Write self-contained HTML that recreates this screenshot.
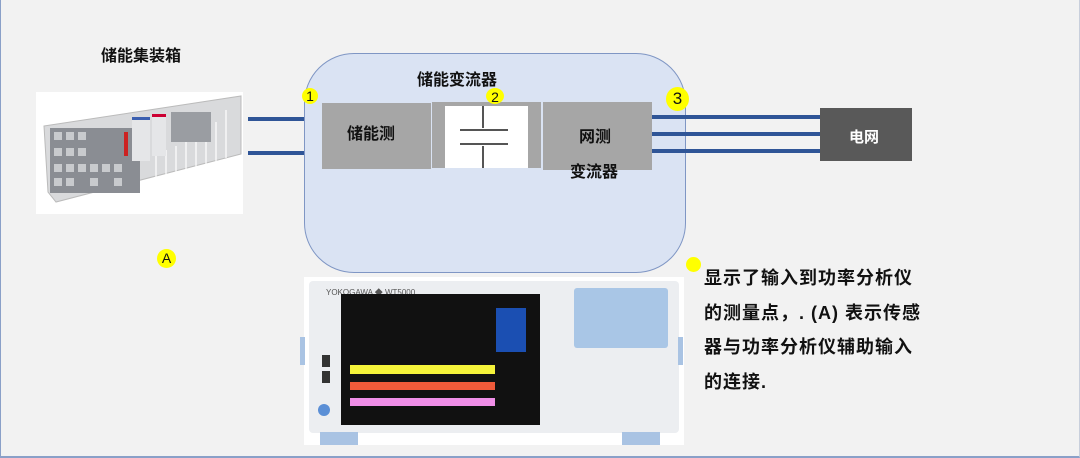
<!DOCTYPE html>
<html><head><meta charset="utf-8"><style>
body{margin:0;width:1080px;height:458px;overflow:hidden;background:#f2f2f2;font-family:"Liberation Sans","Noto Sans CJK SC",sans-serif;}
.a{position:absolute}
.t{font-weight:bold;color:#111;white-space:nowrap}
.y{position:absolute;background:#ffff00;border-radius:50%;text-align:center;color:#111;font-size:14px}
.ln{position:absolute;height:4px;background:#2f5597}
</style></head><body>
<div class="a" style="left:0;top:0;width:1078px;height:456px;border-left:1px solid #8aa0c8;border-right:1px solid #c8cfdc;border-bottom:2px solid #8aa0c8"></div>
<div class="a t" style="left:101px;top:42px;font-size:16px">储能集装箱</div>
<!-- container image -->
<div class="a" style="left:36px;top:92px;width:207px;height:122px;background:#fff;overflow:hidden">
<svg width="207" height="122">
<polygon points="8,34 205,4 205,62 20,110 12,100" fill="#d9dadc" stroke="#bbb"/>
<g stroke="#fff" stroke-width="1.2"><line x1="120" y1="60" x2="120" y2="92"/><line x1="130" y1="58" x2="130" y2="90"/><line x1="140" y1="54" x2="140" y2="86"/><line x1="150" y1="50" x2="150" y2="82"/><line x1="160" y1="46" x2="160" y2="78"/><line x1="170" y1="40" x2="170" y2="74"/><line x1="180" y1="30" x2="180" y2="70"/><line x1="190" y1="18" x2="190" y2="66"/></g>
<rect x="14" y="36" width="90" height="65" fill="#8a8d93"/>
<g fill="#c8cacd"><rect x="18" y="40" width="8" height="8"/><rect x="30" y="40" width="8" height="8"/><rect x="42" y="40" width="8" height="8"/><rect x="18" y="56" width="8" height="8"/><rect x="30" y="56" width="8" height="8"/><rect x="42" y="56" width="8" height="8"/><rect x="18" y="72" width="8" height="8"/><rect x="30" y="72" width="8" height="8"/><rect x="42" y="72" width="8" height="8"/><rect x="54" y="72" width="8" height="8"/><rect x="66" y="72" width="8" height="8"/><rect x="78" y="72" width="8" height="8"/><rect x="18" y="86" width="8" height="8"/><rect x="30" y="86" width="8" height="8"/><rect x="54" y="86" width="8" height="8"/><rect x="78" y="86" width="8" height="8"/></g>
<rect x="96" y="25" width="18" height="44" fill="#e5e6e8"/><rect x="96" y="25" width="18" height="3" fill="#3b5fb0"/>
<rect x="116" y="22" width="14" height="42" fill="#e5e6e8"/><rect x="116" y="22" width="14" height="3" fill="#c03"/>
<rect x="88" y="40" width="4" height="24" fill="#c22"/>
<rect x="135" y="20" width="40" height="30" fill="#9a9da2"/>
</svg></div>
<div class="ln" style="left:248px;top:117px;width:74px"></div>
<div class="ln" style="left:248px;top:151px;width:74px"></div>
<div class="y" style="left:157px;top:249px;width:19px;height:19px;line-height:19px">A</div>
<!-- PCS -->
<div class="a" style="left:304px;top:53px;width:380px;height:218px;background:#dae3f3;border:1.5px solid #7f96c4;border-radius:50px"></div>
<div class="a t" style="left:417px;top:66px;font-size:16px">储能变流器</div>
<div class="a" style="left:322px;top:103px;width:109px;height:66px;background:#a6a6a6"></div>
<div class="a t" style="left:347px;top:120px;font-size:16px">储能测</div>
<div class="a" style="left:432px;top:102px;width:109px;height:66px;background:#a6a6a6"></div>
<div class="a" style="left:445px;top:106px;width:83px;height:62px;background:#fff"></div>
<div class="a" style="left:482px;top:106px;width:2px;height:62px;background:#555"></div>
<div class="a" style="left:470px;top:128px;width:28px;height:18px;background:#fff"></div>
<div class="a" style="left:460px;top:129px;width:48px;height:2px;background:#555"></div>
<div class="a" style="left:460px;top:143px;width:48px;height:2px;background:#555"></div>
<div class="a" style="left:543px;top:102px;width:109px;height:68px;background:#a6a6a6"></div>
<div class="a t" style="left:579px;top:123px;font-size:16px">网测</div>
<div class="a t" style="left:570px;top:158px;font-size:16px">变流器</div>
<div class="y" style="left:302px;top:88px;width:16px;height:16px;line-height:16px">1</div>
<div class="y" style="left:486px;top:88px;width:18px;height:16px;line-height:18px">2</div>
<div class="y" style="left:666px;top:87px;width:23px;height:24px;line-height:24px;font-size:17px">3</div>
<div class="ln" style="left:652px;top:115px;width:168px;height:4px"></div>
<div class="ln" style="left:652px;top:132px;width:168px;height:4px"></div>
<div class="ln" style="left:652px;top:149px;width:168px;height:4px"></div>
<div class="a" style="left:820px;top:108px;width:92px;height:53px;background:#595959"></div>
<div class="a t" style="left:849px;top:126px;font-size:15px;color:#fff">电网</div>
<!-- text -->
<div class="y" style="left:686px;top:257px;width:15px;height:15px"></div>
<div class="a t" style="left:704px;top:261px;font-size:18px;line-height:34.5px;letter-spacing:1px">显示了输入到功率分析仪<br>的测量点，. (A) 表示传感<br>器与功率分析仪辅助输入<br>的连接.</div>
<!-- instrument -->
<div class="a" style="left:304px;top:277px;width:380px;height:168px;background:#fff"></div>
<div class="a" style="left:309px;top:281px;width:370px;height:152px;background:#eceef1;border-radius:4px"></div>
<div class="a" style="left:300px;top:337px;width:5px;height:28px;background:#a9c3e3"></div>
<div class="a" style="left:678px;top:337px;width:5px;height:28px;background:#a9c3e3"></div>
<div class="a" style="left:326px;top:287px;font-size:8px;color:#555">YOKOGAWA ◆ WT5000</div>
<div class="a" style="left:341px;top:294px;width:199px;height:131px;background:#111"></div>
<div class="a" style="left:496px;top:308px;width:30px;height:44px;background:#1b4fb2"></div>
<div class="a" style="left:350px;top:365px;width:145px;height:9px;background:#f5f33a"></div>
<div class="a" style="left:350px;top:382px;width:145px;height:8px;background:#ef5a3a"></div>
<div class="a" style="left:350px;top:398px;width:145px;height:8px;background:#f08fe8"></div>
<div class="a" style="left:322px;top:355px;width:8px;height:12px;background:#333"></div>
<div class="a" style="left:322px;top:371px;width:8px;height:12px;background:#333"></div>
<div class="a" style="left:318px;top:404px;width:12px;height:12px;background:#5b8fd6;border-radius:50%"></div>
<div class="a" style="left:574px;top:288px;width:94px;height:60px;background:#a9c6e6;border-radius:3px"></div>
<div class="a" style="left:320px;top:432px;width:38px;height:13px;background:#a9c3e3"></div>
<div class="a" style="left:622px;top:432px;width:38px;height:13px;background:#a9c3e3"></div>
</body></html>
